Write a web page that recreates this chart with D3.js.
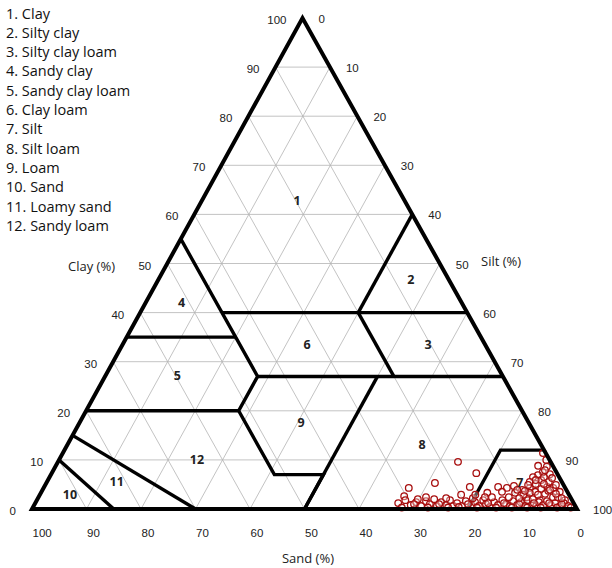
<!DOCTYPE html>
<html>
<head>
<meta charset="utf-8">
<script src="https://cdn.jsdelivr.net/npm/d3@7/dist/d3.min.js"></script>
<style>
  html, body { margin: 0; padding: 0; background: #fff; }
  svg { display: block; }
</style>
</head>
<body>
<svg id="chart" width="612" height="568"></svg>
<script>
// Soil texture classes (USDA), numbered as in the legend
const classNames = [
  "Clay", "Silty clay", "Silty clay loam", "Sandy clay", "Sandy clay loam",
  "Clay loam", "Silt", "Silt loam", "Loam", "Sand", "Loamy sand", "Sandy loam"
];

// Label anchor for each class inside the triangle, as [sand %, clay %]
const classLabelSand = [19.7, 6.9, 10.4, 51.4, 59.7, 32.6, 7.8, 21.8, 41.7, 91.5, 81.6, 64.7];
const classLabelClay = [62.9, 46.8, 33.6, 42.0, 27.1, 33.6, 5.3, 13.2, 17.7, 3.05, 5.7, 10.0];

// Class boundary polylines, each point as [sand %, clay %]
const boundaries = [
  [[45, 55], [45, 27], [52, 20], [52, 7], [43, 7], [50, 0]],
  [[45, 40], [0, 40]],
  [[20, 40], [0, 60]],
  [[20, 40], [20, 27]],
  [[45, 27], [0, 27]],
  [[65, 35], [45, 35]],
  [[80, 20], [52, 20]],
  [[50, 0], [23, 27]],
  [[20, 0], [8, 12], [0, 12]],
  [[85, 0], [90, 10]],
  [[70, 0], [85, 15]]
];

// Axis tick values (percent)
const ticks = [0, 10, 20, 30, 40, 50, 60, 70, 80, 90, 100];

// Samples: sand % and clay % (silt is the remainder)
const sampleSand = [
  17.0, 14.8, 23.4, 17.4, 19.8, 28.7, 30.4, 12.2, 9.2, 0.5,
  0.6, 1.2, 2.5, 3.7, 1.4, 4.8, 5.9, 3.6, 2.2, 1.4,
  1.3, 3.2, 3.2, 5.9, 8.0, 5.9, 4.3, 8.1, 10.7, 12.0,
  14.8, 8.4, 6.5, 5.0, 2.8, 2.4, 1.4, 2.7, 1.4,
  32.2, 30.6, 30.1, 28.8, 28.3, 26.9, 26.5, 25.2, 25.4, 24.2,
  23.6, 22.4, 22.4, 21.4, 20.8, 19.6, 19.0, 18.0, 17.7, 16.3,
  16.2, 15.8, 14.5, 14.1, 12.8, 12.5, 12.0, 10.9, 10.6, 9.6,
  9.2, 8.1, 7.7, 7.2, 6.3, 5.8, 4.7, 4.4, 3.4, 2.8,
  1.8, 1.3,
  14.4, 11.3, 9.7, 9.5, 7.0, 4.5, 7.1, 22.9, 26.5, 28.2,
  18.0, 3.4, 2.3,
  32.0, 29.4, 27.2, 24.8, 23.5, 21.5, 19.5, 18.2, 15.7, 14.7,
  12.8, 11.8, 10.1, 9.0, 7.3, 6.5, 4.5, 3.5, 2.3, 1.0,
  7.7, 5.7, 3.0, 2.3, 3.5, 4.6, 6.5, 9.0, 15.7, 17.2,
  1.7, 1.9
];
const sampleClay = [
  9.6, 7.3, 5.3, 4.5, 2.9, 4.3, 2.6, 4.5, 4.7, 11.4,
  10.0, 8.6, 7.5, 6.9, 7.1, 6.5, 5.5, 5.9, 4.3, 3.5,
  1.8, 4.5, 2.4, 1.8, 2.4, 3.5, 3.1, 3.9, 4.3, 3.5,
  3.3, 2.9, 4.3, 5.1, 6.5, 5.5, 4.9, 8.8, 6.3,
  1.2, 1.8, 0.8, 1.4, 0.6, 1.6, 1.0, 2.0, 0.6, 1.4,
  0.8, 1.8, 0.6, 1.2, 0.6, 1.6, 0.8, 1.4, 0.6, 1.8,
  1.0, 0.4, 1.4, 0.8, 1.8, 1.0, 0.6, 1.6, 0.8, 1.4,
  0.6, 1.8, 1.0, 0.6, 1.4, 0.8, 1.6, 0.8, 1.2, 0.6,
  1.2, 0.6,
  2.4, 2.4, 3.3, 2.2, 3.3, 4.1, 2.0, 2.2, 2.4, 2.0,
  2.2, 3.7, 2.4,
  0.3, 1.0, 0.3, 1.0, 0.3, 0.4, 1.0, 0.3, 1.2, 0.3,
  1.2, 0.3, 1.0, 0.3, 1.2, 0.3, 1.2, 0.3, 1.0, 0.3,
  3.7, 2.9, 3.9, 3.1, 5.1, 5.9, 4.9, 3.9, 2.4, 2.9,
  2.2, 7.9
];

// ---- geometry ----
const left = 32, right = 577, apexX = 302.5, baseY = 509, apexY = 18;
// clay sets the height; sand moves along the base; clay also shifts toward the apex
const yClay = d3.scaleLinear().domain([0, 100]).range([baseY, apexY]);
const xSand = d3.scaleLinear().domain([0, 100]).range([right, left]);
const xClayShift = d3.scaleLinear().domain([0, 100]).range([0, apexX - right]);
const project = (sand, clay) => [xSand(sand) + xClayShift(clay), yClay(clay)];

const svg = d3.select("#chart");
const line = d3.line().x(d => project(d[0], d[1])[0]).y(d => project(d[0], d[1])[1]);

// ---- grid (every 10 %) ----
const gridVals = d3.range(10, 100, 10);
const grid = svg.append("g").attr("stroke", "#b4b4b4").attr("stroke-width", 0.8).attr("fill", "none");
gridVals.forEach(k => {
  // constant clay
  grid.append("path").attr("d", line([[100 - k, k], [0, k]]));
  // constant sand
  grid.append("path").attr("d", line([[k, 0], [k, 100 - k]]));
  // constant silt
  grid.append("path").attr("d", line([[100 - k, 0], [0, 100 - k]]));
});

// ---- class boundaries ----
svg.append("g").selectAll("path").data(boundaries).join("path")
  .attr("d", d => line(d))
  .attr("fill", "none").attr("stroke", "#000").attr("stroke-width", 3.4)
  .attr("stroke-linejoin", "miter");

// ---- samples ----
svg.append("g").selectAll("circle").data(sampleSand.map((s, i) => [s, sampleClay[i]])).join("circle")
  .attr("cx", d => project(d[0], d[1])[0])
  .attr("cy", d => project(d[0], d[1])[1])
  .attr("r", 3.3)
  .attr("fill", "#fff").attr("fill-opacity", 0.35)
  .attr("stroke", "#a80f0f").attr("stroke-width", 1.3);

// ---- outline ----
svg.append("path")
  .attr("d", line([[100, 0], [0, 100], [0, 0]]) + "Z")
  .attr("fill", "none").attr("stroke", "#000").attr("stroke-width", 4)
  .attr("stroke-linejoin", "miter");

// ---- class numbers ----
svg.append("g").selectAll("text").data(classNames).join("text")
  .attr("x", (d, i) => project(classLabelSand[i], classLabelClay[i])[0])
  .attr("y", (d, i) => project(classLabelSand[i], classLabelClay[i])[1])
  .attr("text-anchor", "middle").attr("dominant-baseline", "central")
  .attr("font-family", "'Open Sans', Lato, sans-serif").attr("font-weight", 700)
  .attr("font-size", 12.5).attr("fill", "#222")
  .text((d, i) => i + 1);

// ---- axis tick labels ----
const tickFont = "'Liberation Sans', Arial, sans-serif";
// clay along the left edge
svg.append("g").selectAll("text").data(ticks).join("text")
  .attr("x", d => project(100 - d, d)[0] - 16)
  .attr("y", d => project(100 - d, d)[1] + 2)
  .attr("text-anchor", "end").attr("dominant-baseline", "central")
  .attr("font-family", tickFont).attr("font-size", 11.5).attr("fill", "#222")
  .text(d => d);
// silt along the right edge
svg.append("g").selectAll("text").data(ticks).join("text")
  .attr("x", d => project(0, 100 - d)[0] + 16)
  .attr("y", d => project(0, 100 - d)[1] + 1)
  .attr("text-anchor", "start").attr("dominant-baseline", "central")
  .attr("font-family", tickFont).attr("font-size", 11.5).attr("fill", "#222")
  .text(d => d);
// sand along the base
svg.append("g").selectAll("text").data(ticks).join("text")
  .attr("x", d => project(d, 0)[0] + 0.5)
  .attr("y", 533)
  .attr("text-anchor", "start").attr("dominant-baseline", "central")
  .attr("font-family", tickFont).attr("font-size", 11.5).attr("fill", "#222")
  .text(d => d);

// ---- axis titles ----
const titleFont = "'Open Sans', Lato, sans-serif";
svg.append("text").attr("x", 68).attr("y", 266).attr("dominant-baseline", "central")
  .attr("font-family", titleFont).attr("font-size", 13).attr("fill", "#222").text("Clay (%)");
svg.append("text").attr("x", 481).attr("y", 261).attr("dominant-baseline", "central")
  .attr("font-family", titleFont).attr("font-size", 13).attr("fill", "#222").text("Silt (%)");
svg.append("text").attr("x", 308).attr("y", 558).attr("text-anchor", "middle").attr("dominant-baseline", "central")
  .attr("font-family", titleFont).attr("font-size", 13).attr("fill", "#222").text("Sand (%)");

// ---- legend ----
svg.append("g").selectAll("text").data(classNames).join("text")
  .attr("x", 6)
  .attr("y", (d, i) => 13 + i * 19.3)
  .attr("dominant-baseline", "central")
  .attr("font-family", titleFont).attr("font-size", 14.5).attr("fill", "#111")
  .text((d, i) => `${i + 1}. ${d}`);
</script>
</body>
</html>
